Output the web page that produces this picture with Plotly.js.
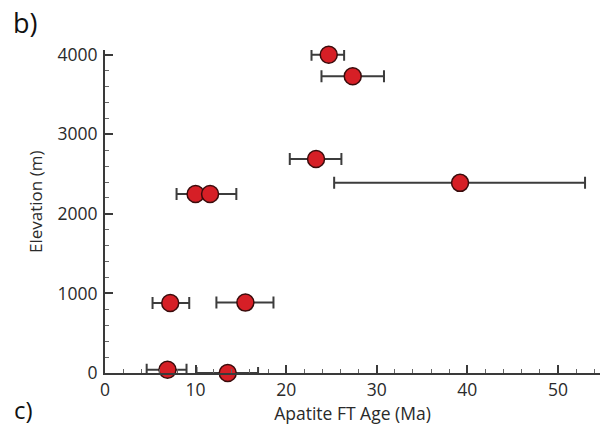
<!DOCTYPE html>
<html>
<head>
<meta charset="utf-8">
<script src="https://cdn.plot.ly/plotly-3.0.1.min.js"></script>
<style>
  html, body { margin: 0; padding: 0; background: #fff; }
  #chart { width: 600px; height: 428px; }
</style>
</head>
<body>
<div id="chart"></div>
<script>
// Apatite fission-track ages against sample elevation
const ageMa = [24.7, 27.35, 23.3, 39.2, 10.0, 11.6, 7.2, 15.5, 6.9, 13.55];
const elevationM = [4000, 3730, 2690, 2390, 2250, 2250, 880, 885, 40, 0];
const errPlus = [1.7, 3.45, 2.8, 13.8, 2.1, 2.9, 2.1, 3.1, 2.1, 3.35];
const errMinus = [1.9, 3.45, 2.9, 13.9, 2.1, 1.5, 1.95, 3.2, 2.3, 3.45];

const xTicks = [0, 10, 20, 30, 40, 50];
const yTicks = [0, 1000, 2000, 3000, 4000];

const textColor = '#2a2a2a';
const axisColor = '#3a3a3a';
const fontFamily = '"Open Sans", "Noto Sans", sans-serif';

const trace = {
  type: 'scatter',
  mode: 'markers',
  x: ageMa,
  y: elevationM,
  cliponaxis: false,
  error_x: {
    type: 'data',
    symmetric: false,
    array: errPlus,
    arrayminus: errMinus,
    color: '#3c3c3c',
    thickness: 2,
    width: 6
  },
  marker: {
    size: 17,
    color: '#d61f26',
    line: { color: '#3a0c0c', width: 1.5 }
  },
  hoverinfo: 'x+y'
};

const layout = {
  width: 600,
  height: 428,
  margin: { l: 104.6, r: 0, t: 49.7, b: 54.7 },
  paper_bgcolor: '#fff',
  plot_bgcolor: '#fff',
  showlegend: false,
  font: { family: fontFamily, color: textColor, size: 17 },
  xaxis: {
    range: [0, 54.65],
    tickvals: xTicks,
    ticktext: xTicks.map(String),
    ticks: 'inside',
    ticklen: 8,
    tickwidth: 2,
    tickcolor: axisColor,
    minor: { dtick: 2, ticks: 'inside', ticklen: 4, tickwidth: 1, tickcolor: '#666' },
    showline: true,
    linecolor: axisColor,
    linewidth: 2,
    showgrid: false,
    zeroline: false,
    tickfont: { size: 17.5, color: textColor },
    title: { text: 'Apatite FT Age (Ma)', font: { size: 17.5, color: textColor }, standoff: 3 }
  },
  yaxis: {
    range: [0, 4060],
    tickvals: yTicks,
    ticktext: yTicks.map(String),
    ticks: 'inside',
    ticklen: 8,
    tickwidth: 2,
    tickcolor: axisColor,
    minor: { dtick: 200, ticks: 'inside', ticklen: 4, tickwidth: 1, tickcolor: '#666' },
    showline: true,
    linecolor: axisColor,
    linewidth: 2,
    showgrid: false,
    zeroline: false,
    tickfont: { size: 17.5, color: textColor },
    ticklabelstandoff: 2
  },
  annotations: [
    {
      text: 'Elevation (m)',
      textangle: -90,
      xref: 'paper', yref: 'paper',
      x: (35 - 104.6) / 495.4, y: (373.3 - 201.5) / 323.6,
      xanchor: 'center', yanchor: 'middle',
      showarrow: false,
      font: { size: 17, color: textColor }
    },
    {
      text: 'b)',
      xref: 'paper', yref: 'paper',
      x: (11 - 104.6) / 495.4, y: (373.3 - 22) / 323.6,
      xanchor: 'left', yanchor: 'middle',
      showarrow: false,
      font: { size: 27, color: '#111' }
    },
    {
      text: 'c)',
      xref: 'paper', yref: 'paper',
      x: (12 - 104.6) / 495.4, y: (373.3 - 428) / 323.6,
      xanchor: 'left', yanchor: 'bottom',
      showarrow: false,
      font: { size: 24, color: '#111' }
    }
  ]
};

Plotly.newPlot('chart', [trace], layout, { displayModeBar: false, staticPlot: true });
</script>
</body>
</html>
